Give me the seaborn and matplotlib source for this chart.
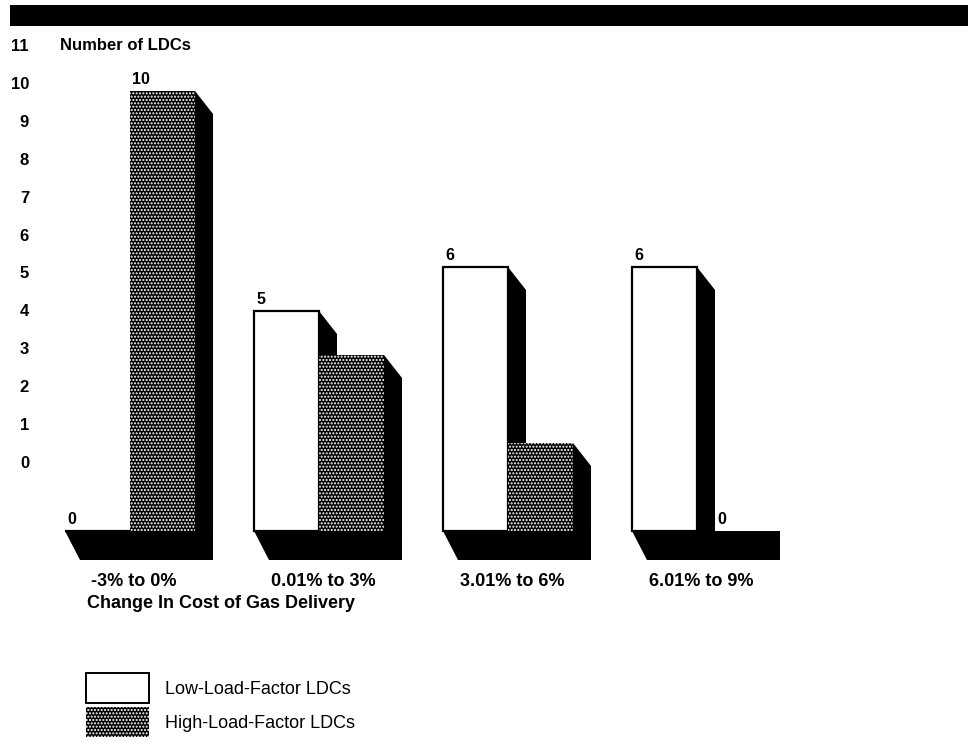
import matplotlib
matplotlib.use("Agg")
import matplotlib.pyplot as plt
from matplotlib.patches import Polygon, Rectangle, Patch
import pandas as pd
import seaborn as sns

# ---- data -------------------------------------------------------------
categories = ["-3% to 0%", "0.01% to 3%", "3.01% to 6%", "6.01% to 9%"]
low_load = [0, 5, 6, 6]
high_load = [10, 4, 2, 0]
series_names = ["Low-Load-Factor LDCs", "High-Load-Factor LDCs"]
y_ticks = list(range(0, 12))

df = pd.DataFrame({
    "range": categories * 2,
    "count": low_load + high_load,
    "group": [series_names[0]] * len(categories) + [series_names[1]] * len(categories),
})

# ---- style ------------------------------------------------------------
sns.set_theme(style="white")
plt.rcParams["font.family"] = ["Liberation Sans", "DejaVu Sans"]
plt.rcParams["hatch.linewidth"] = 1.0
plt.rcParams["text.color"] = "black"

W, H, DPI = 968, 745, 100
fig = plt.figure(figsize=(W / DPI, H / DPI), dpi=DPI)

# pixel layout of the plotting scale
PX_CAT = 189.0     # pixels between category centres
PX_UNIT = 44.0     # pixels per LDC
X0 = 130.0         # centre of the first category (px from left)
Y0 = 214.0         # baseline (px from bottom)

ax = fig.add_axes([0, 0, 1, 1])
ax.patch.set_alpha(0)

STIPPLE = "....."
DARK = "#000000"
sns.barplot(data=df, x="range", y="count", hue="group",
            palette=["white", "black"], width=0.688, gap=0,
            saturation=1, legend=False, ax=ax, zorder=3)

ax.set_xlim(-X0 / PX_CAT, (W - X0) / PX_CAT)
ax.set_ylim(-Y0 / PX_UNIT, (H - Y0) / PX_UNIT)
ax.axis("off")

# 3-D look: side faces and floor slab
side_dx = 18 / PX_CAT
side_dy = 23 / PX_UNIT
floor_d = 29 / PX_UNIT
floor_dx = 15 / PX_CAT

bars = sorted(ax.patches, key=lambda p: p.get_x())
low_bars = [p for p in bars if p.get_facecolor()[0] > 0.5]
high_bars = [p for p in bars if p.get_facecolor()[0] <= 0.5]

for p in low_bars:
    p.set_edgecolor("black")
    p.set_linewidth(1.6)
for p in high_bars:
    p.set_facecolor(DARK)
    p.set_edgecolor("white")
    p.set_linewidth(0)
    p.set_hatch(STIPPLE)

for lo, hi in zip(low_bars, high_bars):
    left = lo.get_x()
    right = hi.get_x() + hi.get_width() + side_dx
    ax.add_patch(Polygon([(left, 0), (right, 0), (right, -floor_d),
                          (left + floor_dx, -floor_d)],
                         closed=True, facecolor="black", edgecolor="none", zorder=1))
    for p in (lo, hi):
        h = p.get_height()
        if h <= 0:
            continue
        xr = p.get_x() + p.get_width()
        ax.add_patch(Polygon([(xr, h), (xr + side_dx, h - side_dy),
                              (xr + side_dx, 0), (xr, 0)],
                             closed=True, facecolor="black", edgecolor="none", zorder=2))

# value labels at the top-left corner of each bar
for lo, hi in zip(low_bars, high_bars):
    for p, is_high in ((lo, False), (hi, True)):
        h = p.get_height()
        x = p.get_x()
        if is_high and h == 0:
            x += side_dx
        ax.annotate(f"{int(round(h))}", xy=(x, h), xytext=(1.5, 3),
                    textcoords="offset points", ha="left", va="bottom",
                    fontsize=11.5, fontweight="bold", color="black", zorder=6)

# category labels and axis title
cat_texts = []
for i, cat in enumerate(categories):
    t = ax.text(i + 4 / PX_CAT, -(Y0 - 164) / PX_UNIT, cat, ha="center", va="center",
                fontsize=13, fontweight="bold", color="black")
    cat_texts.append(t)
fig.canvas.draw()
first_left = cat_texts[0].get_window_extent().x0
title_x = ax.transData.inverted().transform((first_left - 4, 0))[0]
ax.text(title_x, -(Y0 - 141) / PX_UNIT, "Change In Cost of Gas Delivery",
        ha="left", va="center", fontsize=13, fontweight="bold", color="black")

# value scale on the left
y_bot, y_top = 462, 45   # px from top for 0 and 11
ax_y = fig.add_axes([36 / W, (H - y_bot) / H, 1 / W, (y_bot - y_top) / H])
ax_y.set_ylim(y_ticks[0], y_ticks[-1])
ax_y.set_yticks(y_ticks)
ax_y.set_yticklabels([str(t) for t in y_ticks], fontsize=12, fontweight="bold")
ax_y.set_xticks([])
ax_y.tick_params(axis="y", length=0, pad=5, colors="black")
for s in ax_y.spines.values():
    s.set_visible(False)
ax_y.patch.set_alpha(0)
ax_y.annotate("Number of LDCs", xy=(0, y_ticks[-1]), xycoords=("axes fraction", "data"),
              xytext=(17, 0), textcoords="offset points", ha="left", va="center",
              fontsize=12, fontweight="bold", color="black")

# heavy rule across the top
fig.patches.append(Rectangle((10 / W, (H - 26) / H), (W - 10) / W, 21 / H,
                             transform=fig.transFigure, facecolor="black",
                             edgecolor="none"))

# legend
handles = [Patch(facecolor="white", edgecolor="black", linewidth=1.4),
           Patch(facecolor=DARK, edgecolor="white", linewidth=0, hatch=STIPPLE)]
leg = fig.legend(handles, series_names, loc="upper left",
                 bbox_to_anchor=(86 / W, (H - 673) / H), frameon=False,
                 fontsize=13, handlelength=3.5, handleheight=2.2,
                 labelspacing=0.2, handletextpad=0.9, borderpad=0, borderaxespad=0)
for txt in leg.get_texts():
    txt.set_color("black")

fig.savefig("out.png", dpi=DPI, facecolor="white")
